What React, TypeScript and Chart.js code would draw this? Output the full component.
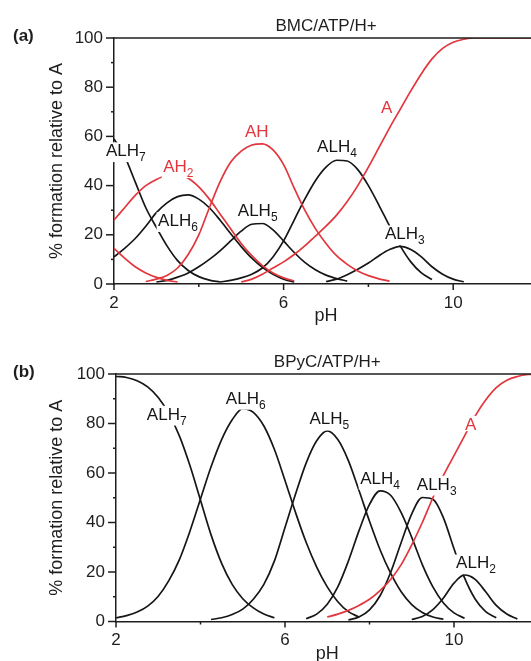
import React, { useEffect, useRef } from "react";
import { Chart, registerables } from "chart.js";

Chart.register(...registerables);

const FAMILY = "'Liberation Sans', Arial, Helvetica, sans-serif";
const BLACK = "#161616";
const RED = "#e2363d";
const AXIS = "#1e1e1e";
const TEXT = "#1e1e1e";

const _ = null;
const G = [_, _, _, _];

// pH grid shared by every curve
const PH = [
  2, 2.25, 2.5, 2.75, 3, 3.25, 3.5, 3.75, 4, 4.25, 4.5, 4.75, 5, 5.25, 5.5, 5.75,
  6, 6.25, 6.5, 6.75, 7, 7.25, 7.5, 7.75, 8, 8.25, 8.5, 8.75, 9, 9.25, 9.5, 9.75,
  10, 10.25, 10.5, 10.75, 11, 11.25, 11.5, 11.75, 12,
];
const X_TICKS = [2, 4, 6, 8, 10];
const X_LABELS = [2, 6, 10];
const Y_TICKS = [0, 10, 20, 30, 40, 50, 60, 70, 80, 90, 100];
const Y_LABELS = [0, 20, 40, 60, 80, 100];

// ---------- panel (a) BMC/ATP/H+ ----------
const A_ALH7 = [59, 52, 41.5, 31, 23, 15.5, 9.5, 5.5, 3, 1.6, 0.8, _, ...G, ...G, ...G, ...G, ...G, ...G, ...G, _];
const A_ALH6 = [11, 14.5, 18.5, 23.5, 29, 33, 35.5, 36.2, 34.5, 31, 26, 20.5, 15.2, 10.5, 6.8, 4, 2, 0.8, _, _, ...G, ...G, ...G, ...G, ...G, _];
const A_AH3 = [14.5, 10.5, 7, 4.5, 2.7, 1.5, 0.8, _, ...G, ...G, ...G, ...G, ...G, ...G, ...G, ...G, _];
const A_AH2 = [26, 31, 36, 40, 42.5, 44.2, 44.5, 43, 39.5, 34.5, 28.5, 22.5, 16.5, 11.5, 7.5, 4.5, 2.5, 1.2, _, _, ...G, ...G, ...G, ...G, ...G, _];
const A_AH = [_, _, _, 1, 2, 3.5, 6.5, 12, 20, 31, 41.5, 49.5, 54, 56.5, 57, 54.5, 48.5, 39, 30, 22.5, 16.5, 11.5, 8, 5.3, 3.4, 2.1, 1.2, _, ...G, ...G, ...G, _];
const A_ALH5 = [...G, 0.8, 1.5, 2.8, 4.5, 7, 10, 13.5, 17.5, 21.5, 24.3, 24.6, 22, 17.5, 12.8, 8.8, 5.8, 3.6, 2.2, 1.2, _, ...G, ...G, ...G, ...G, _];
const A_ALH4 = [...G, ...G, _, _, 0.8, 1.5, 2.5, 4, 6.5, 11, 17.5, 26, 34.5, 42, 47.5, 50.3, 50, 46.5, 40, 32, 23.5, 15.5, 9, 4.5, 1.8, _, ...G, ...G, _];
const A_ALH3 = [...G, ...G, ...G, ...G, ...G, 1, 2, 3.8, 6, 8.5, 11.5, 14, 15.3, 14, 11, 7, 4, 2, 0.9, _, _, ...G, _];
const A_A = [...G, ...G, ...G, 0.8, 2, 4, 6.5, 9, 12, 15.5, 19.5, 23.5, 28, 33.5, 40, 47.5, 55.5, 63.5, 71, 78.5, 85.5, 91.5, 95.8, 98.3, 99.5, 100, 100, 100, 100, 100, 100, 100];

// ---------- panel (b) BPyC/ATP/H+ ----------
const B_ALH7 = [99, 98.6, 97.3, 94.8, 90.5, 84, 75, 63, 49, 35, 23.5, 15, 9.2, 5.5, 3, 1.5, ...G, ...G, ...G, ...G, ...G, ...G, _];
const B_ALH6 = [1.5, 2.4, 3.8, 6.2, 10.2, 16.5, 25, 36.5, 49.5, 62.5, 73.5, 81.5, 86, 84.5, 79, 69.5, 57, 44, 32, 22, 14, 8, 4, 1.8, ...G, ...G, ...G, ...G, _];
const B_ALH5 = [...G, ...G, _, 0.8, 1.5, 2.8, 5, 9, 15, 24.5, 38, 51.5, 64, 73, 77, 73.5, 65, 53, 40.5, 29, 19.5, 12, 6.8, 3.6, 1.8, 0.9, ...G, ...G, _];
const B_ALH4 = [...G, ...G, ...G, ...G, _, _, 1.1, 3, 7, 14, 24.4, 36.6, 47.3, 52.8, 51, 44, 34, 23, 14, 7.5, 3.5, 1.3, _, _, ...G, _];
const B_ALH3 = [...G, ...G, ...G, ...G, ...G, _, _, 0.6, 1.8, 4.7, 10.4, 19.8, 31.9, 43.5, 50.1, 49.4, 41.9, 29.4, 17.6, 9.1, 4, 1.5, _, _, _, _];
const B_ALH2 = [...G, ...G, ...G, ...G, ...G, ...G, ...G, 0.8, 2, 4.8, 9.5, 15.5, 18.8, 17, 12, 6.5, 3, 1, _, _];
const B_A = [...G, ...G, ...G, ...G, ...G, 1.8, 3, 4.5, 6.5, 9, 12.5, 17, 23, 31, 40, 50, 59, 67, 75, 83, 89.5, 94.5, 97.5, 99, 99.8, 100];

type Series = { values: (number | null)[]; color: string };
type Label = { main: string; sub: string; ph: number; pct: number; color: string };

const A_SERIES: Series[] = [
  { values: A_AH3, color: RED },
  { values: A_AH2, color: RED },
  { values: A_AH, color: RED },
  { values: A_A, color: RED },
  { values: A_ALH7, color: BLACK },
  { values: A_ALH6, color: BLACK },
  { values: A_ALH5, color: BLACK },
  { values: A_ALH4, color: BLACK },
  { values: A_ALH3, color: BLACK },
];
const B_SERIES: Series[] = [
  { values: B_A, color: RED },
  { values: B_ALH7, color: BLACK },
  { values: B_ALH6, color: BLACK },
  { values: B_ALH5, color: BLACK },
  { values: B_ALH4, color: BLACK },
  { values: B_ALH3, color: BLACK },
  { values: B_ALH2, color: BLACK },
];

const A_LABELS: Label[] = [
  { main: "ALH", sub: "7", ph: 1.81, pct: 52, color: BLACK },
  { main: "AH", sub: "2", ph: 3.16, pct: 45.5, color: RED },
  { main: "AH", sub: "", ph: 5.09, pct: 59.8, color: RED },
  { main: "ALH", sub: "6", ph: 3.04, pct: 23.6, color: BLACK },
  { main: "ALH", sub: "5", ph: 4.92, pct: 27.5, color: BLACK },
  { main: "ALH", sub: "4", ph: 6.79, pct: 53.7, color: BLACK },
  { main: "ALH", sub: "3", ph: 8.39, pct: 18.2, color: BLACK },
  { main: "A", sub: "", ph: 8.3, pct: 69.6, color: RED },
];
const B_LABELS: Label[] = [
  { main: "ALH", sub: "7", ph: 2.73, pct: 81.6, color: BLACK },
  { main: "ALH", sub: "6", ph: 4.6, pct: 88, color: BLACK },
  { main: "ALH", sub: "5", ph: 6.58, pct: 79.6, color: BLACK },
  { main: "ALH", sub: "4", ph: 7.78, pct: 55.7, color: BLACK },
  { main: "ALH", sub: "3", ph: 9.12, pct: 53.3, color: BLACK },
  { main: "ALH", sub: "2", ph: 10.05, pct: 21.5, color: BLACK },
  { main: "A", sub: "", ph: 10.26, pct: 77.5, color: RED },
];

type PanelSpec = {
  tag: string;
  title: string;
  series: Series[];
  labels: Label[];
  top: number;
  width: number;
  height: number;
  padTop: number;
  padRight: number;
  yAxisW: number;
  xAxisH: number;
};

const PANELS: PanelSpec[] = [
  { tag: "(a)", title: "BMC/ATP/H+", series: A_SERIES, labels: A_LABELS, top: 0, width: 540, height: 325, padTop: 38, padRight: 2, yAxisW: 114, xAxisH: 41 },
  { tag: "(b)", title: "BPyC/ATP/H+", series: B_SERIES, labels: B_LABELS, top: 330, width: 540, height: 331, padTop: 44, padRight: 1.5, yAxisW: 116, xAxisH: 39.5 },
];

const MAIN_PX = 17;
const SUB_PX = 12;

function makeDecor(p: PanelSpec) {
  return {
    id: "decor",
    afterDraw(chart: any) {
      const { ctx, chartArea: ca } = chart;
      const xs = chart.scales.x;
      const ys = chart.scales.y;
      ctx.save();
      // top frame
      ctx.strokeStyle = AXIS;
      ctx.lineWidth = 1.5;
      ctx.beginPath();
      ctx.moveTo(ca.left, ca.top);
      ctx.lineTo(ca.right + 5, ca.top);
      ctx.stroke();
      // tick marks
      for (const v of X_TICKS) {
        const px = xs.getPixelForValue(v);
        const len = X_LABELS.includes(v) ? 6 : 3;
        ctx.beginPath();
        ctx.moveTo(px, ca.bottom);
        ctx.lineTo(px, ca.bottom + len);
        ctx.stroke();
      }
      for (const v of Y_TICKS) {
        const py = ys.getPixelForValue(v);
        const len = Y_LABELS.includes(v) ? 8 : 3;
        ctx.beginPath();
        ctx.moveTo(ca.left - len, py);
        ctx.lineTo(ca.left, py);
        ctx.stroke();
      }
      // curve labels with white boxes
      ctx.textAlign = "left";
      ctx.textBaseline = "alphabetic";
      for (const L of p.labels) {
        const x = xs.getPixelForValue(L.ph);
        const y = ys.getPixelForValue(L.pct);
        ctx.font = `${MAIN_PX}px ${FAMILY}`;
        const w1 = ctx.measureText(L.main).width;
        ctx.font = `${SUB_PX}px ${FAMILY}`;
        const w2 = L.sub ? ctx.measureText(L.sub).width : 0;
        ctx.fillStyle = "#ffffff";
        const boxTop = y - MAIN_PX * 0.72 - 1.5;
        const boxBot = y + (L.sub ? 6 : 1.5);
        ctx.fillRect(x - 1.5, boxTop, w1 + w2 + 3, boxBot - boxTop);
        ctx.fillStyle = L.color;
        ctx.font = `${MAIN_PX}px ${FAMILY}`;
        ctx.fillText(L.main, x, y);
        if (L.sub) {
          ctx.font = `${SUB_PX}px ${FAMILY}`;
          ctx.fillText(L.sub, x + w1, y + 5);
        }
      }
      // titles
      ctx.fillStyle = TEXT;
      ctx.font = `${MAIN_PX}px ${FAMILY}`;
      ctx.textAlign = "center";
      ctx.fillText(p.title, (ca.left + ca.right) / 2, ca.top - 7);
      ctx.font = `bold ${MAIN_PX}px ${FAMILY}`;
      ctx.textAlign = "left";
      ctx.fillText(p.tag, 13, ca.top + 3);
      // axis titles
      ctx.font = `18px ${FAMILY}`;
      ctx.textAlign = "center";
      ctx.fillText("pH", (ca.left + ca.right) / 2, ca.bottom + 37);
      ctx.save();
      ctx.translate(62, (ca.top + ca.bottom) / 2);
      ctx.rotate(-Math.PI / 2);
      ctx.fillText("% formation relative to A", 0, 0);
      ctx.restore();
      ctx.restore();
    },
  };
}

function buildConfig(p: PanelSpec): any {
  const tickFont = { size: 17, family: FAMILY };
  return {
    type: "line",
    data: {
      datasets: p.series.map((s) => ({
        data: PH.map((x, i) => ({ x, y: s.values[i] })),
        borderColor: s.color,
        borderWidth: 1.7,
        pointRadius: 0,
        fill: false,
        spanGaps: false,
        cubicInterpolationMode: "monotone",
      })),
    },
    options: {
      responsive: false,
      animation: false,
      events: [],
      layout: { padding: { top: p.padTop, right: p.padRight, left: 0, bottom: 0 } },
      plugins: { legend: { display: false }, tooltip: { enabled: false }, title: { display: false } },
      scales: {
        x: {
          type: "linear",
          min: 2,
          max: 12,
          afterBuildTicks: (s: any) => {
            s.ticks = X_TICKS.map((v) => ({ value: v }));
          },
          afterFit: (s: any) => {
            s.height = p.xAxisH;
          },
          grid: { display: true, drawOnChartArea: false, drawTicks: false },
          border: { display: true, color: AXIS, width: 1.5 },
          ticks: {
            autoSkip: false,
            maxRotation: 0,
            padding: 9,
            color: TEXT,
            font: tickFont,
            callback: (v: number) => (X_LABELS.includes(v) ? String(v) : ""),
          },
        },
        y: {
          type: "linear",
          min: 0,
          max: 100,
          afterBuildTicks: (s: any) => {
            s.ticks = Y_TICKS.map((v) => ({ value: v }));
          },
          afterFit: (s: any) => {
            s.width = p.yAxisW;
          },
          grid: { display: true, drawOnChartArea: false, drawTicks: false },
          border: { display: true, color: AXIS, width: 1.5 },
          ticks: {
            autoSkip: false,
            padding: 11,
            color: TEXT,
            font: tickFont,
            callback: (v: number) => (Y_LABELS.includes(v) ? String(v) : ""),
          },
        },
      },
    },
    plugins: [makeDecor(p)],
  };
}

function Panel({ spec }: { spec: PanelSpec }) {
  const ref = useRef<HTMLCanvasElement>(null);
  useEffect(() => {
    const chart = new Chart(ref.current as HTMLCanvasElement, buildConfig(spec));
    return () => chart.destroy();
  }, [spec]);
  return (
    <canvas
      ref={ref}
      width={spec.width}
      height={spec.height}
      style={{ position: "absolute", left: 0, top: spec.top, width: spec.width, height: spec.height }}
    />
  );
}

export default function App() {
  return (
    <div
      style={{
        position: "fixed",
        left: 0,
        top: 0,
        width: 531,
        height: 661,
        overflow: "hidden",
        background: "#ffffff",
      }}
    >
      {PANELS.map((p) => (
        <Panel key={p.tag} spec={p} />
      ))}
    </div>
  );
}
